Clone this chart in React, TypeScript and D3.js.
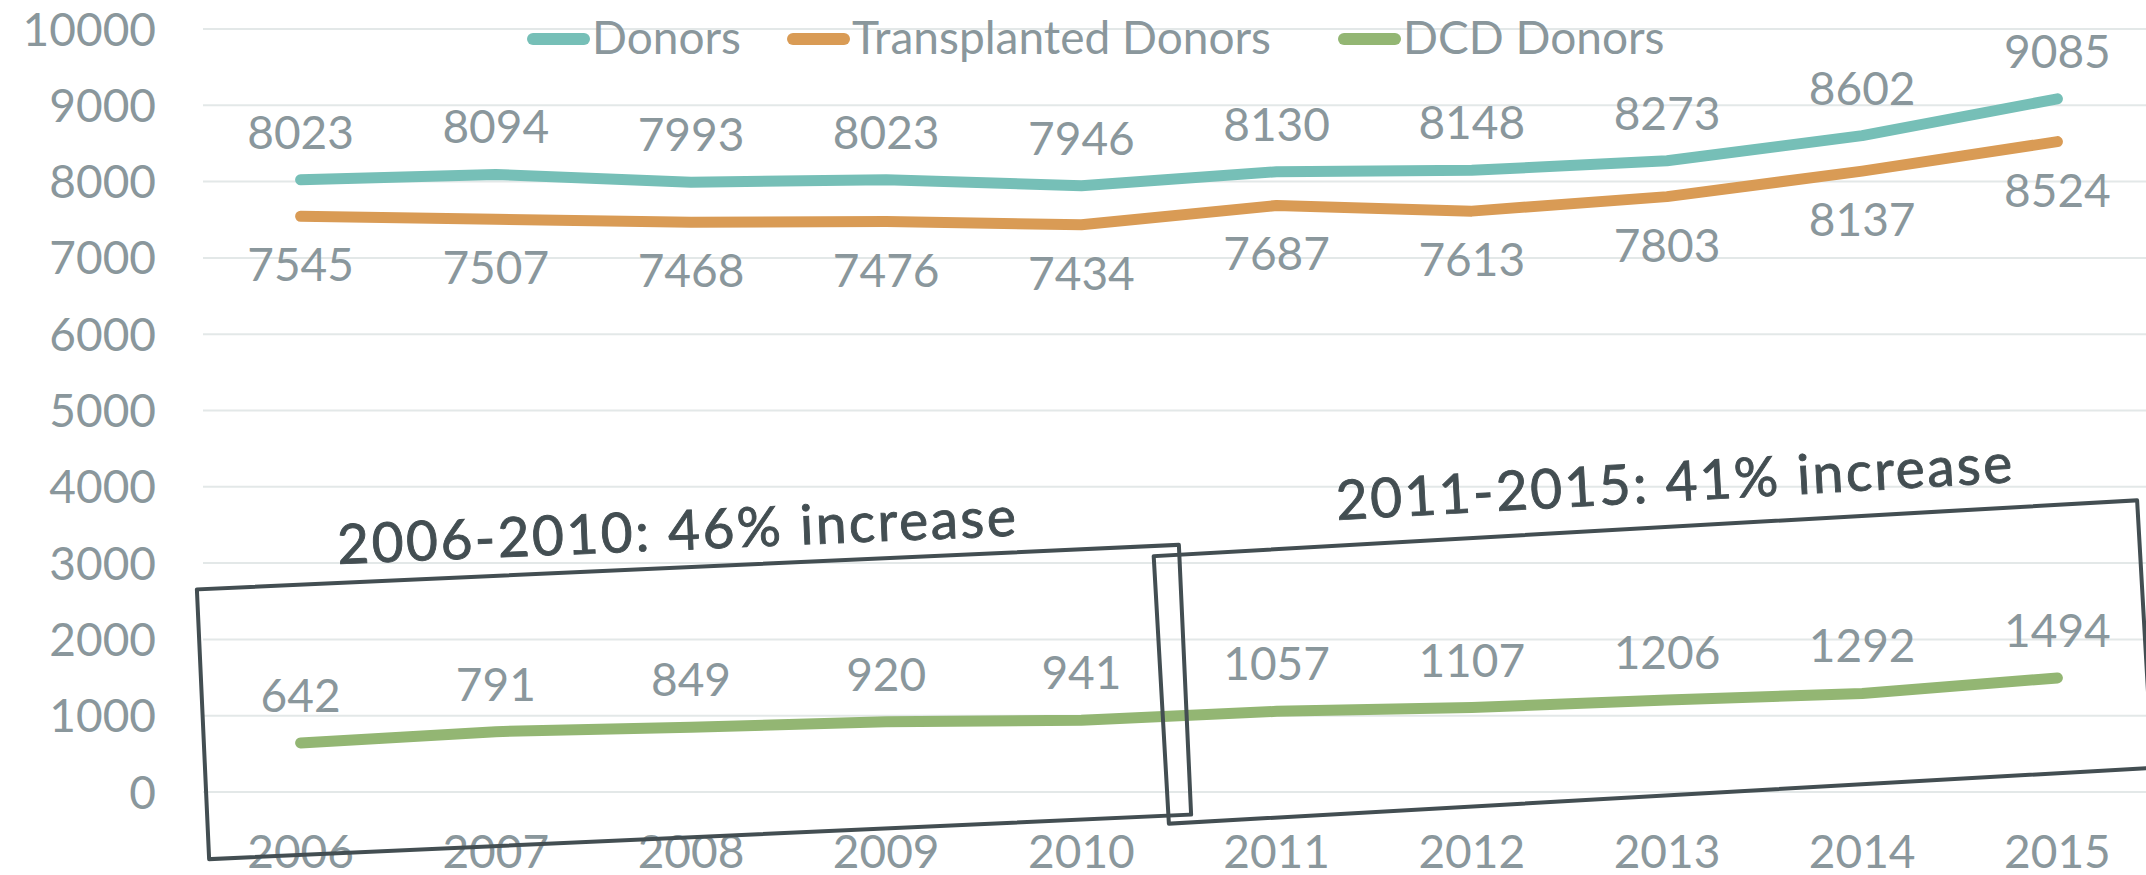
import React from "react";
import * as d3 from "d3";

const years = ["2006", "2007", "2008", "2009", "2010", "2011", "2012", "2013", "2014", "2015"];
const donors = [8023, 8094, 7993, 8023, 7946, 8130, 8148, 8273, 8602, 9085];
const transplantedDonors = [7545, 7507, 7468, 7476, 7434, 7687, 7613, 7803, 8137, 8524];
const dcdDonors = [642, 791, 849, 920, 941, 1057, 1107, 1206, 1292, 1494];
const yTickValues = [0, 1000, 2000, 3000, 4000, 5000, 6000, 7000, 8000, 9000, 10000];

const seriesNames = ["Donors", "Transplanted Donors", "DCD Donors"];
const seriesColors = ["#76bfb7", "#d99b55", "#93b673"];
const labelSide = ["above", "below", "above"];

const annotationTexts = ["2006-2010: 46% increase", "2011-2015: 41% increase"];

const width = 2146;
const height = 875;
const font = "Lato, 'Noto Sans', sans-serif";
const grey = "#8a979c";
const dark = "#434e52";

const Chart = () => {
  const x = d3.scalePoint<string>().domain(years).range([203, 2155]).padding(0.5);
  const y = d3.scaleLinear().domain([0, 10000]).range([792, 29]);

  const series = [donors, transplantedDonors, dcdDonors];

  const line = d3
    .line<number>()
    .x((d, i) => x(years[i]) as number)
    .y(d => y(d));

  // hand drawn boxes round the two periods (center, size, angle)
  const boxes = [
    { cx: 694, cy: 702, w: 983, h: 270, angle: -2.6 },
    { cx: 1653, cy: 662, w: 985, h: 268, angle: -3.25 },
  ];
  const notes = [
    { x: 338, y: 564, len: 679, angle: -2.4 },
    { x: 1337, y: 520, len: 677, angle: -3.2 },
  ];

  const legendX = [527, 787, 1338];

  return (
    <svg
      width={width}
      height={height}
      style={{ position: "absolute", left: 0, top: 0, background: "#fff" }}
      fontFamily={font}
    >
      {/* grid */}
      <g>
        {yTickValues.map(t => (
          <line key={t} x1={203} x2={width} y1={y(t)} y2={y(t)} stroke="#e3e8e8" strokeWidth={2} />
        ))}
      </g>

      {/* y axis labels */}
      <g fontSize={46} fill={grey} textAnchor="end">
        {yTickValues.map(t => (
          <text key={t} x={156} y={y(t) + 16.5}>
            {t}
          </text>
        ))}
      </g>

      {/* x axis labels, clipped by the bottom edge like the original */}
      <g fontSize={46} fill={grey} textAnchor="middle">
        {years.map(yr => (
          <text key={yr} x={x(yr)} y={868}>
            {yr}
          </text>
        ))}
      </g>

      {/* lines */}
      {series.map((vals, si) => (
        <path
          key={si}
          d={line(vals) || ""}
          fill="none"
          stroke={seriesColors[si]}
          strokeWidth={11}
          strokeLinecap="round"
          strokeLinejoin="round"
        />
      ))}

      {/* data labels */}
      <g fontSize={46} fill={grey} textAnchor="middle">
        {series.map((vals, si) =>
          vals.map((v, i) => (
            <text
              key={`${si}-${i}`}
              x={x(years[i])}
              y={labelSide[si] === "above" ? y(v) - 31 : y(v) + 65}
            >
              {v}
            </text>
          ))
        )}
      </g>

      {/* legend */}
      <g fontSize={46} fill={grey}>
        {seriesNames.map((name, i) => (
          <g key={name} transform={`translate(${legendX[i]},0)`}>
            <line x1={6} x2={57} y1={39} y2={39} stroke={seriesColors[i]} strokeWidth={12} strokeLinecap="round" />
            <text x={65} y={54}>
              {name}
            </text>
          </g>
        ))}
      </g>

      {/* annotation boxes */}
      {boxes.map((b, i) => (
        <rect
          key={i}
          x={-b.w / 2}
          y={-b.h / 2}
          width={b.w}
          height={b.h}
          fill="none"
          stroke={dark}
          strokeWidth={4}
          strokeLinejoin="round"
          transform={`translate(${b.cx},${b.cy}) rotate(${b.angle})`}
        />
      ))}

      {/* annotation texts */}
      {notes.map((n, i) => (
        <text
          key={i}
          fontSize={55}
          fill={dark}
          stroke={dark}
          strokeWidth={0.9}
          textLength={n.len}
          lengthAdjust="spacing"
          transform={`translate(${n.x},${n.y}) rotate(${n.angle})`}
        >
          {annotationTexts[i]}
        </text>
      ))}
    </svg>
  );
};

export default function App() {
  return <Chart />;
}
